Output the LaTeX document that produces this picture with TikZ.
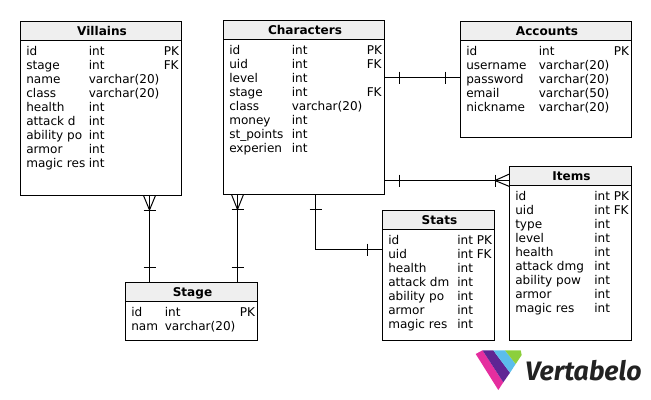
\documentclass[tikz,border=0pt]{standalone}
\usepackage{fontspec}
\setmainfont{DejaVu Sans}
\newfontfamily\logofont{Fira Sans}
\usetikzlibrary{calc}
\definecolor{headgray}{HTML}{EFEFEF}
\definecolor{logopink}{HTML}{E52E9F}
\definecolor{logopurple}{HTML}{5F2594}
\definecolor{logoblue}{HTML}{5BBDEB}
\definecolor{logogreen}{HTML}{8CCF3C}
\definecolor{logotext}{HTML}{222222}
\tikzset{
  tablebox/.style={draw, line width=0.75pt, fill=white, anchor=north west, inner sep=0pt, outer sep=0pt},
  headbox/.style={draw, line width=0.75pt, fill=headgray, anchor=north west, inner sep=0pt, outer sep=0pt, font=\fontsize{9.05}{10.5}\selectfont\bfseries, minimum height=14.25pt, text height=9pt, text depth=2pt, execute at begin node=\hspace{1.5pt}},
  coltext/.style={anchor=north west, inner sep=0pt, align=left, font=\fontsize{9.05}{10.5}\selectfont, execute at begin node=\strut},
  rel/.style={line width=0.75pt},
}
\begin{document}
\begin{tikzpicture}[x=0.75pt, y=-0.75pt]
  \useasboundingbox (0,0) rectangle (651,400);

  % Villains
  \node[tablebox, minimum width=120.75pt, minimum height=130.5pt] (villains) at (20.5,21.5) {};
  \node[headbox, minimum width=120.75pt] (villainshead) at (20.5,21.5) {Villains};
  \node[coltext] (villainsname) at (26,46) {id\\stage\\name\\class\\health\\attack d\\ability po\\armor\\magic res};
  \node[coltext] (villainstype) at (88.5,46) {int\\int\\varchar(20)\\varchar(20)\\int\\int\\int\\int\\int};
  \node[coltext] (villainskey) at (163.5,46) {PK\\FK};

  % Characters
  \node[tablebox, minimum width=120.75pt, minimum height=130.5pt] (characters) at (223.5,20.5) {};
  \node[headbox, minimum width=120.75pt] (charactershead) at (223.5,20.5) {Characters};
  \node[coltext] (charactersname) at (229,45) {id\\uid\\level\\stage\\class\\money\\st\_points\\experien};
  \node[coltext] (characterstype) at (291.5,45) {int\\int\\int\\int\\varchar(20)\\int\\int\\int};
  \node[coltext] (characterskey) at (366.5,45) {PK\\FK\\\\FK};

  % Accounts
  \node[tablebox, minimum width=128.25pt, minimum height=87pt] (accounts) at (460.5,21.5) {};
  \node[headbox, minimum width=128.25pt] (accountshead) at (460.5,21.5) {Accounts};
  \node[coltext] (accountsname) at (466,46) {id\\username\\password\\email\\nickname};
  \node[coltext] (accountstype) at (538.5,46) {int\\varchar(20)\\varchar(20)\\varchar(50)\\varchar(20)};
  \node[coltext] (accountskey) at (613.5,46) {PK\\};

  % Items
  \node[tablebox, minimum width=91.5pt, minimum height=130.5pt] (items) at (509.5,166.5) {};
  \node[headbox, minimum width=91.5pt] (itemshead) at (509.5,166.5) {Items};
  \node[coltext] (itemsname) at (515,191) {id\\uid\\type\\level\\health\\attack dmg\\ability pow\\armor\\magic res};
  \node[coltext] (itemstype) at (594,191) {int\\int\\int\\int\\int\\int\\int\\int\\int};
  \node[coltext] (itemskey) at (613.5,191) {PK\\FK};

  % Stats
  \node[tablebox, minimum width=84pt, minimum height=97.5pt] (stats) at (382.5,210.5) {};
  \node[headbox, minimum width=84pt] (statshead) at (382.5,210.5) {Stats};
  \node[coltext] (statsname) at (388,235) {id\\uid\\health\\attack dm\\ability po\\armor\\magic res};
  \node[coltext] (statstype) at (457,235) {int\\int\\int\\int\\int\\int\\int};
  \node[coltext] (statskey) at (476.5,235) {PK\\FK};

  % Stage
  \node[tablebox, minimum width=99pt, minimum height=43.5pt] (stage) at (125.5,282.5) {};
  \node[headbox, minimum width=99pt] (stagehead) at (125.5,282.5) {Stage};
  \node[coltext] (stagename) at (131,307) {id\\nam};
  \node[coltext] (stagetype) at (164.5,307) {int\\varchar(20)};
  \node[coltext] (stagekey) at (239.5,307) {PK\\};

  % connector positions
  \coordinate (linka) at (149.5,0);
  \coordinate (linkb) at (237.5,0);
  \coordinate (linkc) at (315.5,0);
  \coordinate (linkcc) at (0,249.5);
  \coordinate (linkd) at (0,77.5);
  \coordinate (linke) at (0,180.5);

  \draw[rel] (villains.south -| linka) -- (stagehead.north -| linka);
  \draw[rel] (characters.south -| linkb) -- (stagehead.north -| linkb);
  \draw[rel] (characters.south -| linkc) |- (stats.west |- linkcc);
  \draw[rel] (characters.east |- linkd) -- (accounts.west |- linkd);
  \draw[rel] (characters.east |- linke) -- (itemshead.west |- linke);

  % crow feet
  \draw[rel] (143.5,195.5) -- (149.5,210) -- (155.5,195.5);
  \draw[rel] (231.5,194.5) -- (237.5,209.5) -- (243.5,194.5);
  \draw[rel] (509.5,174) -- (495,180.5) -- (509.5,186.5);

  % ticks
  \foreach \x/\y in {149.5/210, 149.5/267.5, 237.5/209.5, 237.5/267.5, 315.5/209.5}
    \draw[rel] (\x-6,\y) -- (\x+6,\y);
  \foreach \x/\y in {367.5/249.5, 399.5/77.5, 445.5/77.5, 399.5/180.5, 495/180.5}
    \draw[rel] (\x,\y-6) -- (\x,\y+6);

  % logo
  \fill[logopink] (475.7,354) -- (482.5,350.3) -- (503.3,382.3) -- (498.3,390) -- cycle;
  \fill[logopurple] (482.5,350.3) -- (493.3,350.3) -- (510,372.7) -- (503.3,382.3) -- cycle;
  \fill[logoblue] (493.3,350.3) -- (505,350.3) -- (515.7,364) -- (510,372.7) -- cycle;
  \fill[logogreen] (505,350.3) -- (520.7,350.3) -- (521.7,355) -- (515.7,364) -- cycle;
  \node[anchor=base west, inner sep=0pt, text=logotext, font=\logofont\fontsize{20}{20}\selectfont\bfseries\itshape] (logoname) at (525,380) {Vertabelo};
\end{tikzpicture}
\end{document}
